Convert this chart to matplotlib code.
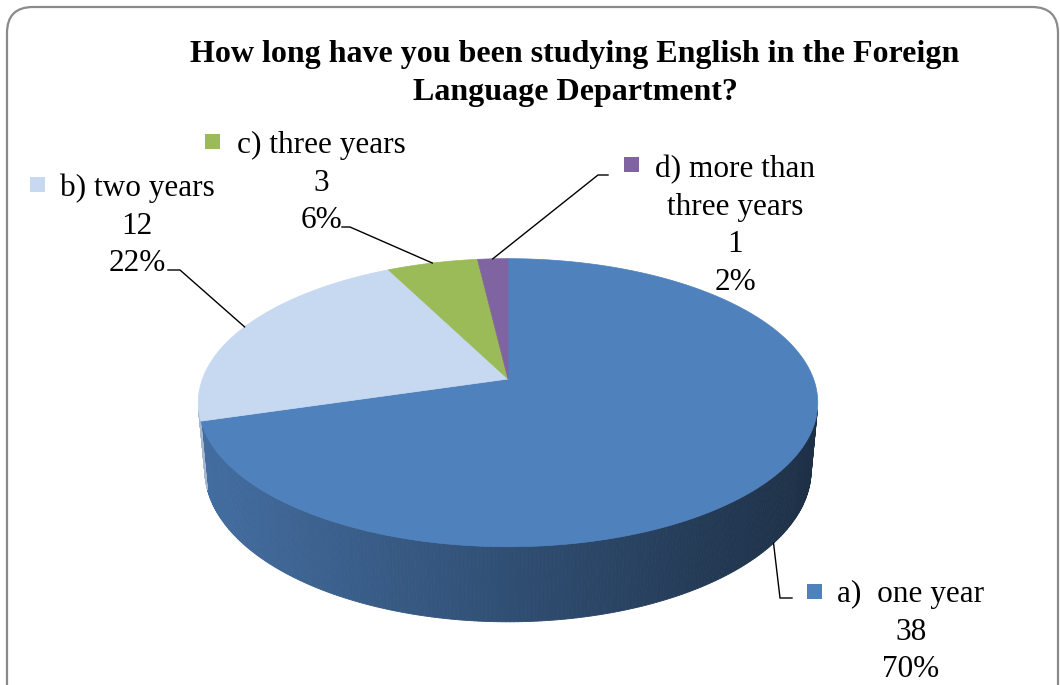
import numpy as np
import matplotlib.pyplot as plt
from matplotlib.patches import Polygon, Rectangle, FancyBboxPatch
from matplotlib.colors import to_rgb

plt.rcParams['font.family'] = 'Liberation Serif'

title_lines = ['How long have you been studying English in the Foreign',
               'Language Department?']
labels = [['a)  one year'], ['b) two years'], ['c) three years'],
          ['d) more than', 'three years']]
counts = [38, 12, 3, 1]
colors = ['#4f81bd', '#c6d9f1', '#9bbb59', '#8064a2']

# label placement: text centre x, first baseline y, legend key top-left
label_pos = [(911, 602), (137, 196), (321, 153), (735, 177)]
key_pos = [(807, 584), (30, 177), (205, 134), (624, 157)]
# leader lines: elbow point, end point next to the label
elbows = [((780, 598), (792, 598)), ((180, 270), (168, 270)),
          ((350, 227), (342, 227)), ((598, 175), (608, 175))]

# simple perspective camera for the 3d pie
cx, cy = 508, 379
elev = np.radians(27.3)
dist = 5.4
focal = 1650
thick = 0.25
ce, se = np.cos(elev), np.sin(elev)


def project(theta, y):
    X = np.cos(theta)
    Z = np.sin(theta)
    depth = dist + Z * ce - y * se
    return cx + focal * X / depth, cy - focal * (y * ce + Z * se) / depth


fig = plt.figure(figsize=(10.6, 6.85), dpi=100)
ax = fig.add_axes([0, 0, 1, 1])
ax.set_xlim(0, 1060)
ax.set_ylim(685, 0)
ax.axis('off')

total = sum(counts)
cum = np.concatenate([[0], np.cumsum(counts)]) / total
starts = np.pi / 2 - 2 * np.pi * cum[:-1]
ends = np.pi / 2 - 2 * np.pi * cum[1:]
facing = -1 / (dist * ce)

# side wall (only the part facing the viewer), darker towards the right
for i in range(len(counts)):
    th = np.linspace(ends[i], starts[i], 400)
    base = np.array(to_rgb(colors[i]))
    for t0, t1 in zip(th[:-1], th[1:]):
        if np.sin((t0 + t1) / 2) >= facing:
            continue
        xa, ya = project(t0, 0)
        xb, yb = project(t1, 0)
        xc, yc = project(t1, -thick)
        xd, yd = project(t0, -thick)
        u = ((xa + xb) / 2 - cx) / 310
        shade = np.clip(0.61 - 0.24 * u, 0.37, 0.88)
        c = base * shade
        ax.add_patch(Polygon([(xa, ya), (xb, yb), (xc, yc), (xd, yd)],
                             closed=True, facecolor=c, edgecolor=c, lw=0.6))

# top face, slices meet at the projected centre
for i in range(len(counts)):
    th = np.linspace(starts[i], ends[i], 200)
    pts = [(cx, cy)] + [project(t, 0) for t in th]
    ax.add_patch(Polygon(pts, closed=True, facecolor=colors[i],
                         edgecolor=colors[i], lw=0.5))

# labels with leader lines and legend keys
for i in range(len(counts)):
    mid = (starts[i] + ends[i]) / 2
    ay = -thick if np.sin(mid) < 0 else 0
    anchor = project(mid, ay)
    (ex, ey), (fx, fy) = elbows[i]
    ax.plot([anchor[0], ex, fx], [anchor[1], ey, fy], color='black', lw=1.0)

    pct = round(100 * counts[i] / total)
    lines = labels[i] + [str(counts[i]), f'{pct}%']
    tx, ty = label_pos[i]
    for k, line in enumerate(lines):
        ax.text(tx, ty + 37.5 * k, line, ha='center', va='baseline',
                fontsize=22.5, color='black')
    kx, ky = key_pos[i]
    ax.add_patch(Rectangle((kx, ky), 15, 15, facecolor=colors[i],
                           edgecolor='none'))

for k, line in enumerate(title_lines):
    ax.text(575, 62 + 38 * k, line, ha='center', va='baseline',
            fontsize=23, fontweight='bold', color='black')

# rounded chart border
ax.add_patch(FancyBboxPatch((7, 7), 1051, 720,
                            boxstyle='round,pad=0,rounding_size=26',
                            facecolor='none', edgecolor='#8a8a8a', lw=1.6))

fig.savefig('out.png', dpi=100)
